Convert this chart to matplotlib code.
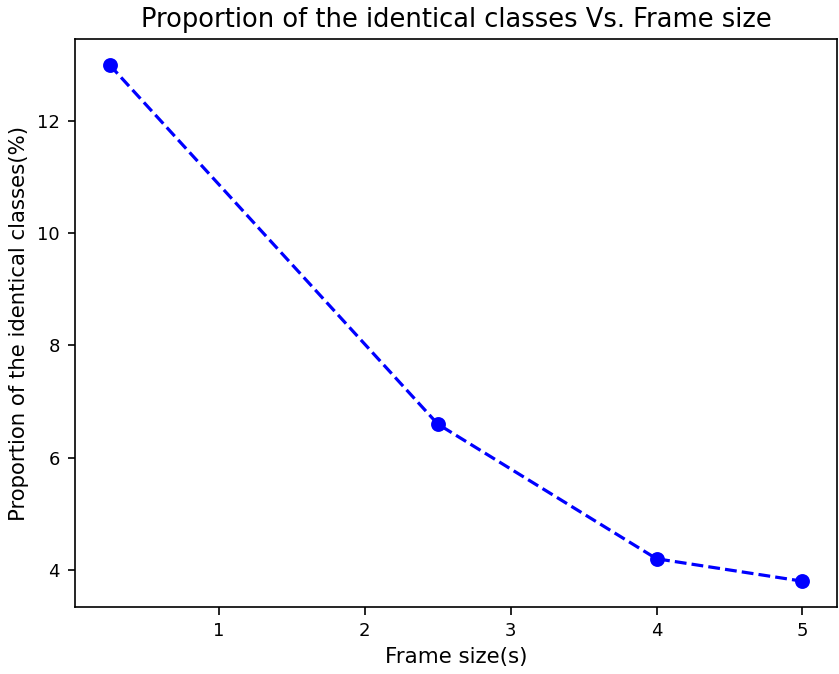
import matplotlib
matplotlib.use('Agg')
import matplotlib.pyplot as plt

frame_sizes = [0.25, 2.5, 4, 5]
identical_pct = [13.0, 6.6, 4.2, 3.8]

plt.rcParams['axes.linewidth'] = 1.2
plt.rcParams['xtick.major.size'] = 5.4
plt.rcParams['ytick.major.size'] = 5.4
plt.rcParams['xtick.major.width'] = 1.2
plt.rcParams['ytick.major.width'] = 1.2
plt.rcParams['xtick.major.pad'] = 5.4
plt.rcParams['ytick.major.pad'] = 5.4

fig = plt.figure(figsize=(8.39, 6.74), dpi=100)
ax = fig.add_axes([0.0894, 0.0994, 0.9082, 0.8426])
ax.plot(frame_sizes, identical_pct, 'b--', marker='o', linewidth=2.3,
        markersize=9.2, markeredgewidth=1.5)
ax.set_title('Proportion of the identical classes Vs. Frame size', fontsize=18.5, pad=9)
ax.set_xlabel('Frame size(s)', fontsize=15.4, labelpad=5)
ax.set_ylabel('Proportion of the identical classes(%)', fontsize=15.3, labelpad=6)
ax.tick_params(labelsize=13)
plt.savefig('out.png', dpi=100)
